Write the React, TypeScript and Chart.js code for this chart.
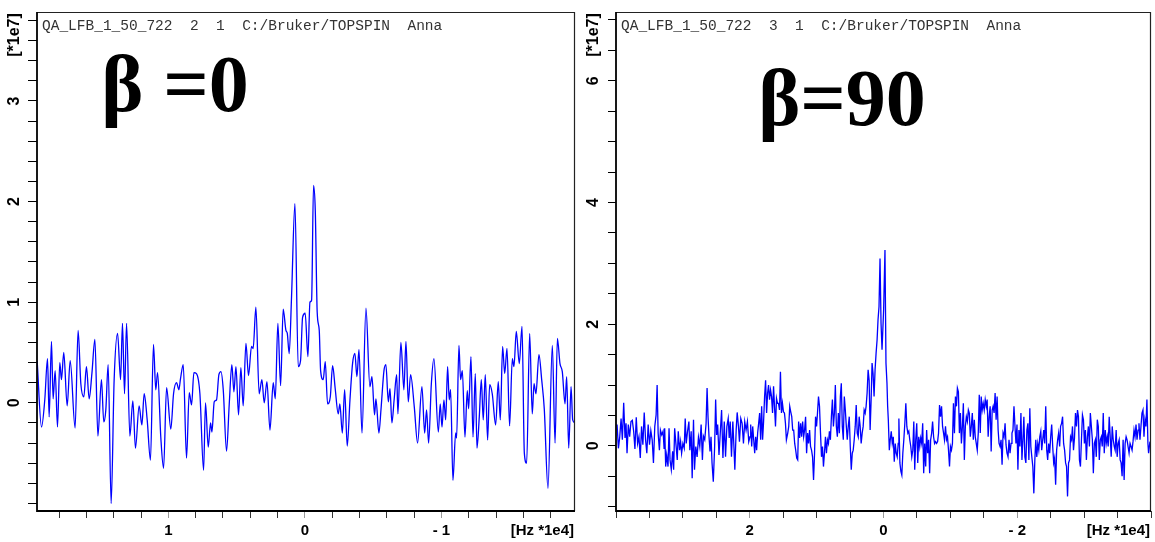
import React, { useEffect, useRef } from "react";
import { Chart, registerables } from "chart.js";

Chart.register(...registerables);

// ---- β = 0 spectrum (frequency in Hz*1e4, intensity in 1e7) ----
const LEFT_HZ = [
  1.961, 1.929, 1.905, 1.885, 1.873, 1.856, 1.844, 1.829, 1.812, 1.795,
  1.783, 1.766, 1.741, 1.719, 1.683, 1.661, 1.641, 1.619, 1.6, 1.58,
  1.56, 1.538, 1.516, 1.49, 1.473, 1.458, 1.441, 1.419, 1.397, 1.372,
  1.35, 1.336, 1.321, 1.306, 1.282, 1.26, 1.241, 1.214, 1.194, 1.177,
  1.155, 1.131, 1.109, 1.092, 1.079, 1.055, 1.035, 1.013, 0.982, 0.962,
  0.94, 0.923, 0.911, 0.891, 0.867, 0.847, 0.83, 0.813, 0.794, 0.769,
  0.742, 0.728, 0.708, 0.691, 0.681, 0.664, 0.647, 0.63, 0.615, 0.598,
  0.574, 0.554, 0.535, 0.52, 0.505, 0.486, 0.469, 0.452, 0.432, 0.413,
  0.391, 0.379, 0.359, 0.335, 0.315, 0.298, 0.278, 0.256, 0.232, 0.217,
  0.198, 0.178, 0.159, 0.139, 0.129, 0.115, 0.098, 0.073, 0.049, 0.032,
  0.017, -0.002, -0.022, -0.037, -0.049, -0.063, -0.076, -0.09, -0.105, -0.115,
  -0.134, -0.149, -0.166, -0.186, -0.203, -0.222, -0.244, -0.256, -0.274, -0.291,
  -0.31, -0.33, -0.349, -0.366, -0.381, -0.396, -0.418, -0.447, -0.476, -0.491,
  -0.51, -0.52, -0.542, -0.557, -0.579, -0.593, -0.611, -0.623, -0.637, -0.654,
  -0.672, -0.681, -0.703, -0.725, -0.74, -0.757, -0.774, -0.801, -0.825, -0.857,
  -0.877, -0.891, -0.906, -0.926, -0.945, -0.977, -0.991, -1.004, -1.018, -1.031,
  -1.045, -1.057, -1.067, -1.084, -1.104, -1.111, -1.128, -1.14, -1.153, -1.172,
  -1.189, -1.199, -1.216, -1.231, -1.248, -1.26, -1.277, -1.292, -1.306, -1.321,
  -1.338, -1.353, -1.372, -1.397, -1.416, -1.431, -1.448, -1.463, -1.48, -1.499,
  -1.519, -1.531, -1.548, -1.57, -1.59, -1.607, -1.624, -1.646, -1.665, -1.678,
  -1.692, -1.714, -1.734, -1.753, -1.78, -1.812, -1.832, -1.849, -1.868, -1.885,
  -1.905, -1.917, -1.932, -1.949, -1.961, -1.978,
];
const LEFT_INT = [
  0.42, -0.24, 0.03, 0.44, -0.14, 0.61, 0.04, 0.32, -0.24, 0.4,
  0.23, 0.5, -0.03, 0.42, -0.25, 0.72, 0.19, 0.06, 0.36, 0.04,
  0.29, 0.63, -0.33, 0.23, -0.19, -0.07, 0.38, -1.0, 0.23, 0.69,
  0.23, 0.79, 0.09, 0.79, -0.33, 0.02, -0.45, -0.03, -0.22, 0.09,
  -0.17, -0.57, 0.58, 0.13, 0.3, -0.35, -0.65, 0.15, -0.26, 0.09,
  0.2, 0.13, 0.24, 0.38, -0.55, 0.1, -0.02, 0.3, 0.29, 0.09,
  -0.67, 0.0, -0.44, -0.2, -0.29, 0.01, 0.03, 0.28, 0.31, 0.13,
  -0.48, -0.01, 0.38, 0.11, 0.36, -0.12, 0.35, -0.03, 0.59, 0.27,
  0.56, 0.54, 0.95, 0.09, 0.23, 0.0, 0.21, -0.27, 0.2, 0.04,
  0.79, 0.17, 0.93, 0.72, 0.69, 0.49, 1.05, 1.98, 0.36, 0.42,
  0.85, 0.89, 0.46, 1.0, 1.02, 2.16, 1.91, 0.9, 0.72, 0.32,
  0.23, 0.41, -0.01, 0.06, 0.37, 0.14, -0.11, -0.01, -0.3, 0.13,
  -0.43, 0.03, 0.39, 0.49, 0.26, 0.53, -0.3, 0.94, 0.16, 0.26,
  -0.12, 0.04, -0.3, -0.07, 0.32, 0.38, 0.01, 0.14, -0.2, 0.04,
  0.28, -0.11, 0.6, 0.13, 0.61, 0.01, 0.28, -0.04, -0.4, 0.16,
  -0.3, -0.07, -0.4, 0.19, 0.44, -0.29, -0.01, -0.24, 0.03, -0.17,
  0.36, 0.03, 0.13, -0.77, -0.3, -0.35, 0.57, 0.23, 0.32, -0.34,
  0.12, -0.06, 0.46, -0.34, 0.29, -0.45, -0.14, 0.23, -0.17, 0.28,
  -0.37, 0.18, 0.09, -0.22, 0.21, -0.17, 0.56, 0.29, 0.54, -0.23,
  0.44, 0.36, 0.71, 0.39, 0.76, -0.5, -0.6, 0.69, -0.11, 0.19,
  0.09, 0.48, 0.23, -0.06, -0.85, 0.57, -0.4, 0.64, 0.39, 0.31,
  -0.01, 0.26, -0.45, 0.16, -0.17, -0.2,
];

// ---- β = 90 spectrum ----
const RIGHT_HZ = [
  3.984, 3.964, 3.944, 3.924, 3.905, 3.885, 3.865, 3.85, 3.835, 3.816,
  3.796, 3.776, 3.756, 3.736, 3.717, 3.697, 3.677, 3.657, 3.637, 3.618,
  3.598, 3.578, 3.558, 3.539, 3.519, 3.499, 3.479, 3.459, 3.44, 3.42,
  3.4, 3.385, 3.37, 3.351, 3.336, 3.316, 3.296, 3.281, 3.272, 3.257,
  3.242, 3.222, 3.207, 3.192, 3.173, 3.153, 3.138, 3.123, 3.103, 3.084,
  3.069, 3.049, 3.034, 3.019, 3.0, 2.98, 2.965, 2.95, 2.93, 2.91,
  2.896, 2.876, 2.861, 2.841, 2.826, 2.807, 2.787, 2.767, 2.747, 2.727,
  2.708, 2.693, 2.673, 2.653, 2.638, 2.624, 2.609, 2.594, 2.579, 2.564,
  2.545, 2.525, 2.51, 2.495, 2.48, 2.46, 2.441, 2.421, 2.401, 2.381,
  2.362, 2.342, 2.322, 2.307, 2.292, 2.273, 2.253, 2.238, 2.223, 2.203,
  2.188, 2.169, 2.154, 2.134, 2.114, 2.094, 2.075, 2.055, 2.035, 2.015,
  1.996,
  1.986, 1.971, 1.956, 1.941, 1.926, 1.911, 1.897, 1.882, 1.867, 1.852,
  1.837, 1.822, 1.808, 1.793, 1.778, 1.763, 1.748, 1.733, 1.719, 1.704,
  1.689, 1.674, 1.659, 1.644, 1.63, 1.615, 1.6, 1.585, 1.57, 1.555,
  1.541, 1.526, 1.511, 1.496, 1.481, 1.466, 1.452, 1.432, 1.417, 1.402,
  1.387, 1.372, 1.358, 1.343, 1.328, 1.313, 1.298, 1.283, 1.269, 1.254,
  1.239, 1.224, 1.209, 1.194, 1.18, 1.165, 1.15, 1.135, 1.12, 1.105,
  1.091, 1.076, 1.061, 1.046, 1.031, 1.016, 1.001, 0.987, 0.972, 0.957,
  0.942, 0.927, 0.912, 0.898, 0.883, 0.868, 0.853, 0.838, 0.823, 0.809,
  0.794, 0.779, 0.764, 0.749, 0.734, 0.72, 0.705, 0.69, 0.675, 0.66,
  0.645, 0.631, 0.616, 0.601, 0.586, 0.571, 0.556, 0.542, 0.527, 0.512,
  0.497, 0.482, 0.467, 0.453, 0.438, 0.423, 0.408, 0.393, 0.378, 0.364,
  0.349, 0.334, 0.319, 0.304, 0.289, 0.274, 0.26, 0.245, 0.23, 0.215,
  0.2, 0.185, 0.171, 0.156, 0.141, 0.126, 0.111, 0.096, 0.082, 0.067,
  0.052, 0.037, 0.022,
  -0.002, -0.022, -0.037, -0.052, -0.062, -0.072,
  -0.087, -0.101, -0.116, -0.131, -0.146, -0.161, -0.176, -0.19, -0.205, -0.22,
  -0.23,
  -0.245, -0.26, -0.274, -0.289, -0.304, -0.319, -0.334, -0.349, -0.364, -0.378,
  -0.393, -0.408, -0.423, -0.438, -0.453, -0.467, -0.482, -0.497, -0.512, -0.527,
  -0.542, -0.556, -0.571, -0.586, -0.601, -0.616, -0.631, -0.645, -0.66, -0.675,
  -0.69, -0.705, -0.72, -0.734, -0.749, -0.764, -0.779, -0.794, -0.809, -0.823,
  -0.838, -0.853, -0.868, -0.883, -0.898, -0.912, -0.927, -0.942, -0.957, -0.972,
  -0.987, -1.001, -1.016, -1.031, -1.046, -1.061, -1.076, -1.091, -1.105, -1.12,
  -1.135, -1.15, -1.165, -1.18, -1.194, -1.209, -1.224, -1.239, -1.254, -1.269,
  -1.283, -1.298, -1.313, -1.328, -1.343, -1.358, -1.372, -1.387, -1.402, -1.417,
  -1.432, -1.447, -1.461, -1.476, -1.491, -1.506, -1.521, -1.536, -1.55, -1.565,
  -1.58, -1.595, -1.61, -1.625, -1.639, -1.654, -1.669, -1.684, -1.699, -1.714,
  -1.728, -1.743, -1.758, -1.773, -1.788, -1.803, -1.818, -1.832, -1.847, -1.862,
  -1.877, -1.892, -1.907, -1.921, -1.936, -1.951, -1.966, -1.981,
  -1.996, -2.01, -2.025, -2.04, -2.055, -2.07, -2.085, -2.099, -2.114, -2.129,
  -2.144, -2.159, -2.174, -2.188, -2.203, -2.218, -2.233, -2.248, -2.263, -2.277,
  -2.292, -2.307, -2.322, -2.337, -2.352, -2.366, -2.381, -2.396, -2.411, -2.426,
  -2.441, -2.455, -2.47, -2.485, -2.5, -2.515, -2.53, -2.545, -2.559, -2.574,
  -2.589, -2.604, -2.619, -2.634, -2.648, -2.663, -2.678, -2.693, -2.708, -2.723,
  -2.737, -2.752, -2.767, -2.782, -2.797, -2.812, -2.826, -2.841, -2.856, -2.871,
  -2.886, -2.901, -2.915, -2.93, -2.945, -2.96, -2.975, -2.99, -3.004, -3.019,
  -3.034, -3.049, -3.064, -3.079, -3.093, -3.108, -3.123, -3.138, -3.153, -3.168,
  -3.182, -3.197, -3.212, -3.227, -3.242, -3.257, -3.271, -3.286, -3.301, -3.316,
  -3.331, -3.346, -3.36, -3.375, -3.39, -3.405, -3.42, -3.435, -3.45, -3.464,
  -3.479, -3.494, -3.509, -3.524, -3.539, -3.553, -3.568, -3.583, -3.598, -3.613,
  -3.628, -3.642, -3.657, -3.672, -3.687, -3.702, -3.717, -3.731, -3.746, -3.761,
  -3.776, -3.791, -3.806, -3.82, -3.835, -3.85, -3.865, -3.88, -3.895, -3.909,
  -3.924, -3.939, -3.954, -3.964, -3.984,
];
const RIGHT_INT = [
  0.35, -0.04, 0.15, 0.45, 0.1, 0.71, 0.13, 0.37, -0.12, 0.35,
  0.15, 0.4, 0.42, 0.24, -0.05, 0.47, 0.04, 0.15, -0.2, 0.32,
  0.02, 0.55, 0.1, -0.12, 0.35, 0.02, 0.25, 0.1, -0.28, 0.32,
  0.51, 1.0, 0.21, -0.07, 0.26, 0.18, 0.24, -0.04, 0.29, -0.34,
  -0.15, -0.34, 0.29, -0.23, -0.39, -0.09, -0.39, 0.29, 0.02, -0.23,
  0.24, -0.07, 0.07, -0.12, 0.04, -0.04, 0.45, 0.04, 0.24, 0.4,
  -0.07, 0.24, -0.53, 0.43, -0.39, -0.01, -0.18, 0.14, -0.01, 0.35,
  -0.23, 0.16, 0.1, 0.37, 0.95, 0.48, 0.15, -0.09, 0.15, -0.28,
  -0.59, -0.01, 0.76, 0.18, 0.35, -0.15, 0.21, 0.59, -0.2, 0.4,
  -0.18, 0.32, 0.45, 0.13, 0.4, -0.18, 0.4, 0.02, -0.39, 0.26,
  0.55, 0.32, 0.07, 0.45, 0.37, 0.04, 0.4, 0.26, 0.4, 0.07,
  0.15,
  0.35, -0.01, 0.32, 0.1, -0.12, 0.15, -0.07, 0.21, 0.37, 0.54,
  0.1, 0.65, 0.1, 0.4, 0.81, 1.08, 0.54, 0.87, 1.0, 0.76,
  0.92, 0.81, 0.54, 0.98, 0.65, 0.32, 0.78, 0.7, 0.7, 0.59,
  1.22, 0.54, 0.7, 0.56, 0.54, 0.37, 0.1, 0.21, 0.32, 0.65,
  0.56, 0.48, 0.26, 0.26, 0.04, -0.07, -0.2, -0.23, 0.4, 0.13,
  0.37, 0.15, 0.4, 0.15, 0.26, 0.48, -0.12, 0.21, 0.04, 0.26,
  -0.01, -0.07, -0.18, -0.56, -0.12, 0.48, 0.32, 0.54, 0.81, 0.65,
  0.21, -0.18, -0.01, -0.34, -0.12, 0.15, -0.12, 0.1, 0.04, 0.24,
  0.1, 0.48, 0.76, 0.32, 0.54, 1.0, 0.32, 0.15, 0.54, 0.21,
  0.81, 1.03, 0.32, 0.1, 0.81, 0.59, 0.32, 0.1, 0.32, 0.48,
  -0.01, -0.39, -0.12, -0.07, 0.1, 0.32, 0.67, 0.21, 0.15, 0.48,
  0.32, 0.04, 0.21, 0.32, 0.59, 0.54, 0.65, 0.87, 1.25, 1.08,
  0.26, 0.76, 1.36, 1.19, 0.81, 1.25, 1.52, 1.74, 2.07, 2.29,
  3.08, 2.02, 1.58,
  2.24, 3.22, 1.36, 1.03, 0.65, 0.43, -0.07, 0.1, 0.24, 0.04,
  0.15, -0.26, 0.04, -0.12, -0.18, 0.04, 0.45, -0.28, -0.42, -0.48,
  -0.12, 0.1, 0.37, 0.7, 0.32, 0.21, 0.24, 0.1, -0.01, -0.18,
  -0.07, 0.4, -0.39, 0.1, 0.37, -0.28, 0.15, -0.01, 0.13, 0.04,
  0.37, -0.45, 0.04, -0.34, 0.26, -0.12, 0.1, -0.45, 0.1, 0.21,
  0.4, 0.15, 0.04, 0.07, 0.04, 0.07, 0.21, 0.67, 0.48, 0.65,
  0.32, 0.21, 0.1, 0.32, 0.1, 0.15, -0.07, -0.34, -0.01, -0.07,
  0.04, 0.7, 0.21, 0.81, 0.65, 0.95, 0.89, 0.21, 0.54, 0.04,
  0.32, 0.7, -0.23, 0.32, 0.48, 0.4, 0.59, 0.54, 0.15, 0.32,
  0.54, 0.1, 0.43, 0.15, 0.04, -0.07, 0.21, 0.84, 0.21, 0.81,
  0.59, 0.7, 0.59, 0.76, 0.65, 0.76, 0.15, 0.48, 0.65, -0.09,
  0.59, 0.65, 0.54, 0.87, 0.43, 0.81, 0.26, 0.04, -0.01, 0.1,
  -0.31, 0.21, 0.15, 0.37, 0.02, -0.12, -0.18, 0.1, -0.12, 0.04,
  0.21, 0.26, 0.65, 0.32, 0.04,
  0.35, -0.39, 0.26, -0.01, 0.54, -0.23, 0.1, 0.48, -0.18, -0.28,
  0.26, 0.37, -0.23, 0.62, -0.01, -0.18, -0.34, -0.78, -0.23, 0.1,
  -0.18, 0.04, -0.07, 0.15, 0.24, -0.07, 0.1, 0.26, 0.04, 0.65,
  -0.07, -0.23, 0.04, -0.12, 0.15, 0.35, -0.01, -0.28, -0.2, -0.64,
  -0.07, 0.1, 0.21, -0.01, 0.32, 0.37, 0.48, 0.04, -0.07, -0.28,
  -0.34, -0.83, -0.28, -0.23, 0.15, 0.1, 0.32, -0.07, 0.13, 0.54,
  0.32, 0.59, 0.48, -0.23, -0.34, 0.1, 0.51, 0.43, 0.04, 0.26,
  -0.23, 0.15, 0.32, -0.01, 0.54, 0.32, 0.1, -0.45, 0.04, 0.1,
  -0.18, 0.43, 0.32, -0.23, 0.1, 0.15, -0.01, 0.54, -0.12, 0.26,
  0.04, 0.15, -0.01, 0.48, 0.15, -0.18, 0.32, 0.1, -0.01, -0.07,
  0.26, -0.18, 0.04, 0.1, -0.23, -0.28, -0.5, 0.1, -0.56, 0.04,
  0.15, 0.1, -0.01, -0.12, 0.04, -0.01, -0.07, 0.07, 0.26, 0.15,
  0.35, 0.1, 0.26, 0.37, 0.1, 0.32, 0.54, 0.59, 0.15, 0.43,
  0.32, 0.76, 0.04, -0.12, 0.07,
];

// ---- axis ticks and labels ----
const LEFT_X_TICKS = [1.8, 1.6, 1.4, 1.2, 1.0, 0.8, 0.6, 0.4, 0.2, 0, -0.2, -0.4, -0.6, -0.8, -1.0, -1.2, -1.4, -1.6, -1.8];
const LEFT_X_LABEL_AT = [1, 0, -1];
const LEFT_X_LABELS = ["1", "0", "- 1"];
const LEFT_Y_TICKS = [-1.0, -0.8, -0.6, -0.4, -0.2, 0, 0.2, 0.4, 0.6, 0.8, 1.0, 1.2, 1.4, 1.6, 1.8, 2.0, 2.2, 2.4, 2.6, 2.8, 3.0, 3.2, 3.4, 3.6, 3.8];
const LEFT_Y_LABEL_AT = [0, 1, 2, 3];
const LEFT_Y_LABELS = ["0", "1", "2", "3"];

const RIGHT_X_TICKS = [4, 3.5, 3, 2.5, 2, 1.5, 1, 0.5, 0, -0.5, -1, -1.5, -2, -2.5, -3, -3.5, -4];
const RIGHT_X_LABEL_AT = [2, 0, -2];
const RIGHT_X_LABELS = ["2", "0", "- 2"];
const RIGHT_Y_TICKS = [-1.0, -0.5, 0, 0.5, 1.0, 1.5, 2.0, 2.5, 3.0, 3.5, 4.0, 4.5, 5.0, 5.5, 6.0, 6.5, 7.0];
const RIGHT_Y_LABEL_AT = [0, 2, 4, 6];
const RIGHT_Y_LABELS = ["0", "2", "4", "6"];

const HEADER_LEFT = "QA_LFB_1_50_722  2  1  C:/Bruker/TOPSPIN  Anna";
const HEADER_RIGHT = "QA_LFB_1_50_722  3  1  C:/Bruker/TOPSPIN  Anna";
const ANGLE_LEFT = "β =0";
const ANGLE_RIGHT = "β=90";
const Y_UNIT = "[*1e7]";
const X_UNIT = "[Hz *1e4]";

const BOLD_SANS = '"Liberation Sans", Arial, Helvetica, sans-serif';

type PanelSpec = {
  hz: number[];
  intensity: number[];
  xMin: number;
  xMax: number;
  yMin: number;
  yMax: number;
  xTicks: number[];
  xLabelAt: number[];
  xLabels: string[];
  yTicks: number[];
  yLabelAt: number[];
  yLabels: string[];
  header: string;
  angle: string;
  angleX: number;
  angleY: number;
  axisWidth: number;
  padRight: number;
  yTickLen: number;
  smooth: boolean;
};

const near = (a: number, b: number) => Math.abs(a - b) < 1e-6;

function labelFor(v: number, at: number[], texts: string[]) {
  const i = at.findIndex((a) => near(a, v));
  return i >= 0 ? texts[i] : "";
}

function decorations(p: PanelSpec) {
  return {
    id: "panelDecor",
    afterDraw(chart: any) {
      const { ctx, chartArea: a, scales } = chart;
      ctx.save();
      // frame
      ctx.strokeStyle = "#222";
      ctx.lineWidth = 1.2;
      ctx.beginPath();
      ctx.moveTo(a.left, a.top + 0.5);
      ctx.lineTo(a.right - 0.5, a.top + 0.5);
      ctx.lineTo(a.right - 0.5, a.bottom);
      ctx.stroke();
      ctx.strokeStyle = "#000";
      ctx.lineWidth = 1.8;
      ctx.beginPath();
      ctx.moveTo(a.left, a.top);
      ctx.lineTo(a.left, a.bottom);
      ctx.lineTo(a.right, a.bottom);
      ctx.stroke();

      // rotated y labels
      const labelX = a.left - 22;
      ctx.fillStyle = "#000";
      ctx.font = `bold 16px ${BOLD_SANS}`;
      ctx.textAlign = "center";
      ctx.textBaseline = "middle";
      p.yLabelAt.forEach((v, i) => {
        const py = scales.y.getPixelForValue(v);
        ctx.save();
        ctx.translate(labelX, py);
        ctx.rotate(-Math.PI / 2);
        ctx.fillText(p.yLabels[i], 0, 0);
        ctx.restore();
      });
      ctx.save();
      ctx.translate(labelX, a.top + 23);
      ctx.rotate(-Math.PI / 2);
      ctx.fillText(Y_UNIT, 0, 0);
      ctx.restore();

      // x unit
      ctx.font = `bold 15px ${BOLD_SANS}`;
      ctx.textAlign = "right";
      ctx.fillText(X_UNIT, a.right - 1, a.bottom + 20);

      // run header
      ctx.font = '14.5px "Liberation Mono", "Courier New", monospace';
      ctx.fillStyle = "#333";
      ctx.textAlign = "left";
      ctx.textBaseline = "alphabetic";
      ctx.fillText(p.header, a.left + 5, a.top + 18);

      // angle label
      ctx.font = 'bold 80px "Liberation Serif", "Times New Roman", serif';
      ctx.fillStyle = "#000";
      ctx.textAlign = "center";
      ctx.fillText(p.angle, p.angleX, p.angleY);
      ctx.restore();
    },
  };
}

function buildConfig(p: PanelSpec): any {
  const points = p.hz.slice(0, Math.min(p.hz.length, p.intensity.length)).map((x, i) => ({ x, y: p.intensity[i] }));
  return {
    type: "line",
    data: {
      datasets: [
        {
          data: points,
          borderColor: "#0000ff",
          borderWidth: 1.3,
          pointRadius: 0,
          fill: false,
          tension: 0,
          cubicInterpolationMode: p.smooth ? "monotone" : "default",
        },
      ],
    },
    options: {
      animation: false,
      responsive: false,
      devicePixelRatio: 1,
      layout: { padding: { top: 12, right: p.padRight, left: 0, bottom: 0 } },
      plugins: { legend: { display: false }, tooltip: { enabled: false } },
      events: [],
      scales: {
        x: {
          type: "linear",
          reverse: true,
          min: p.xMin,
          max: p.xMax,
          position: "bottom",
          border: { display: false },
          grid: {
            drawOnChartArea: false,
            drawTicks: true,
            tickLength: 7,
            lineWidth: 1,
            tickColor: (c: any) =>
              c.tick && p.xLabelAt.some((v) => near(v, c.tick.value)) ? "#999" : "#333",
          },
          afterBuildTicks: (s: any) => {
            s.ticks = p.xTicks.map((value) => ({ value }));
          },
          afterFit: (s: any) => {
            s.height = 31;
          },
          ticks: {
            autoSkip: false,
            maxRotation: 0,
            minRotation: 0,
            padding: 4,
            color: "#000",
            font: { family: BOLD_SANS, size: 15, weight: "bold" },
            callback: (v: number) => labelFor(v, p.xLabelAt, p.xLabels),
          },
        },
        y: {
          type: "linear",
          min: p.yMin,
          max: p.yMax,
          position: "left",
          border: { display: false },
          grid: {
            drawOnChartArea: false,
            drawTicks: true,
            tickLength: p.yTickLen,
            lineWidth: 1,
            tickColor: "#000",
          },
          afterBuildTicks: (s: any) => {
            s.ticks = p.yTicks.map((value) => ({ value }));
          },
          afterFit: (s: any) => {
            s.width = p.axisWidth;
          },
          ticks: { display: false },
        },
      },
    },
    plugins: [decorations(p)],
  };
}

const LEFT_PANEL: PanelSpec = {
  hz: LEFT_HZ,
  intensity: LEFT_INT,
  xMin: -1.978,
  xMax: 1.962,
  yMin: -1.075,
  yMax: 3.884,
  xTicks: LEFT_X_TICKS,
  xLabelAt: LEFT_X_LABEL_AT,
  xLabels: LEFT_X_LABELS,
  yTicks: LEFT_Y_TICKS,
  yLabelAt: LEFT_Y_LABEL_AT,
  yLabels: LEFT_Y_LABELS,
  header: HEADER_LEFT,
  angle: ANGLE_LEFT,
  angleX: 175,
  angleY: 111,
  axisWidth: 37,
  padRight: 5,
  yTickLen: 9,
  smooth: true,
};

const RIGHT_PANEL: PanelSpec = {
  hz: RIGHT_HZ,
  intensity: RIGHT_INT,
  xMin: -4,
  xMax: 4,
  yMin: -1.07,
  yMax: 7.13,
  xTicks: RIGHT_X_TICKS,
  xLabelAt: RIGHT_X_LABEL_AT,
  xLabels: RIGHT_X_LABELS,
  yTicks: RIGHT_Y_TICKS,
  yLabelAt: RIGHT_Y_LABEL_AT,
  yLabels: RIGHT_Y_LABELS,
  header: HEADER_RIGHT,
  angle: ANGLE_RIGHT,
  angleX: 262,
  angleY: 125,
  axisWidth: 36,
  padRight: 2,
  yTickLen: 8,
  smooth: false,
};

function SpectrumPanel({ spec, left, width }: { spec: PanelSpec; left: number; width: number }) {
  const ref = useRef<HTMLCanvasElement | null>(null);
  useEffect(() => {
    if (!ref.current) return;
    const chart = new Chart(ref.current, buildConfig(spec));
    return () => chart.destroy();
  }, [spec]);
  return (
    <canvas
      ref={ref}
      width={width}
      height={542}
      style={{ position: "absolute", left, top: 0, width, height: 542 }}
    />
  );
}

export default function App() {
  return (
    <div style={{ position: "absolute", left: 0, top: 0, width: 1155, height: 542, background: "#fff", overflow: "hidden" }}>
      <SpectrumPanel spec={LEFT_PANEL} left={0} width={580} />
      <SpectrumPanel spec={RIGHT_PANEL} left={580} width={575} />
    </div>
  );
}
